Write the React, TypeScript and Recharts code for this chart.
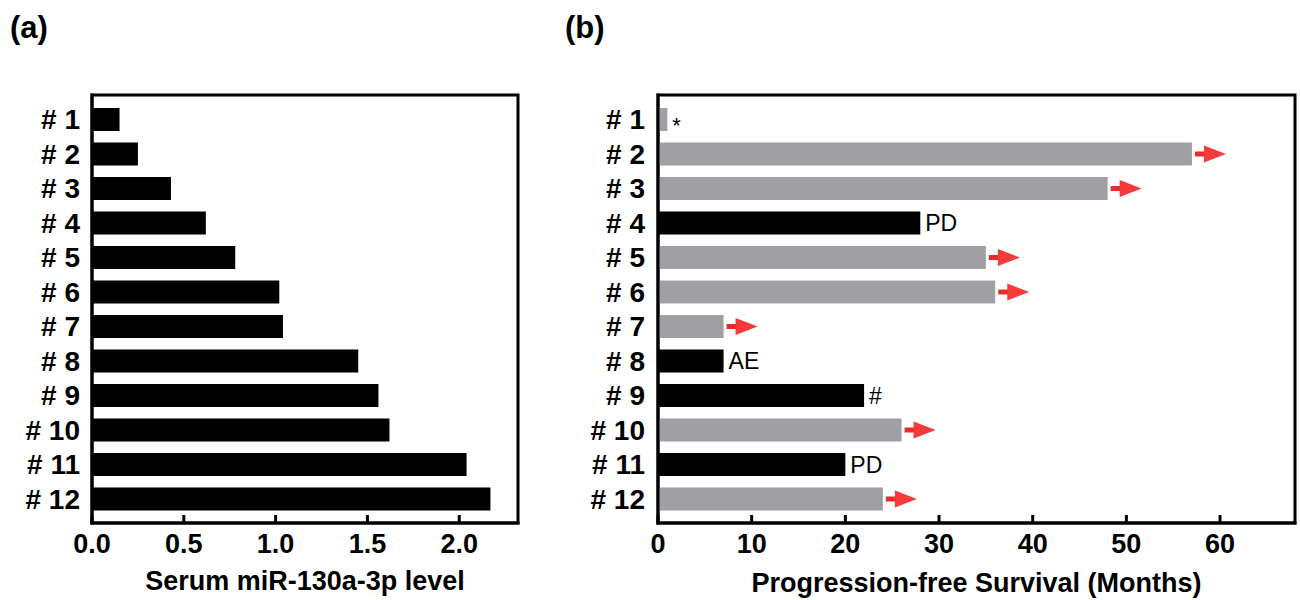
import React from 'react';
import * as R from 'recharts';
import { BarChart, Bar, XAxis, YAxis, Cell, LabelList } from 'recharts';

const FONT = "'Liberation Sans', Arial, Helvetica, sans-serif";

const patients = ['# 1', '# 2', '# 3', '# 4', '# 5', '# 6', '# 7', '# 8', '# 9', '# 10', '# 11', '# 12'];
const mirLevels = [0.15, 0.25, 0.43, 0.62, 0.78, 1.02, 1.04, 1.45, 1.56, 1.62, 2.04, 2.17];
const pfsMonths = [1, 57, 48, 28, 35, 36, 7, 7, 22, 26, 20, 24];
const pfsStatus = ['*', 'arrow', 'arrow', 'PD', 'arrow', 'arrow', 'arrow', 'AE', '#', 'arrow', 'PD', 'arrow'];
const mirTicks = [0, 0.5, 1, 1.5, 2];
const pfsTicks = [0, 10, 20, 30, 40, 50, 60];
const mirMax = 2.32;
const pfsMax = 68;
const titleA = 'Serum miR-130a-3p level';
const titleB = 'Progression-free Survival (Months)';

const BLACK = '#000000';
const GRAY = '#a09fa4';
const RED = '#f63a3a';

const dataA = patients.map((name, i) => ({ name, value: mirLevels[i] }));
const dataB = patients.map((name, i) => ({ name, value: pfsMonths[i], status: pfsStatus[i] }));

const frameLine = { stroke: '#000', strokeWidth: 3, strokeLinecap: 'square' as const };

const usePlotAreaSafe: () => any = (R as any).usePlotArea || (() => null);

function Frame() {
  const pa = usePlotAreaSafe();
  if (!pa) return null;
  return (
    <rect x={pa.x} y={pa.y} width={pa.width} height={pa.height} fill="none" stroke="#000" strokeWidth={3} />
  );
}

const makeXTick = (fmt: (v: number) => string) => (props: any) => {
  const { x, y, payload } = props;
  return (
    <g>
      <line x1={x} x2={x} y1={y} y2={y - 8} stroke="#000" strokeWidth={3} />
      <text x={x} y={y + 30} textAnchor="middle" fontSize={27} fontWeight="bold" fontFamily={FONT} fill="#000">
        {fmt(payload.value)}
      </text>
    </g>
  );
};

const yTickStyle = { fontSize: 28, fontWeight: 'bold', fill: '#000', fontFamily: FONT };

const renderStatus = (props: any) => {
  const { x, y, width, height, value } = props;
  const end = Number(x) + Number(width);
  const cy = Number(y) + Number(height) / 2;
  if (value === 'arrow') {
    return (
      <g>
        <path d={`M ${end + 3} ${cy - 2.5} H ${end + 15} V ${cy + 2.5} H ${end + 3} Z`} fill="#e82a2a" />
        <path d={`M ${end + 12} ${cy - 8.5} L ${end + 34} ${cy} L ${end + 12} ${cy + 8.5} Z`} fill={RED} />
      </g>
    );
  }
  if (value === '*') {
    return (
      <text x={end + 5} y={cy} dy="0.62em" fontSize={22} fontFamily={FONT} fill="#000">
        *
      </text>
    );
  }
  return (
    <text x={end + 5} y={cy} dy="0.36em" fontSize={23} fontFamily={FONT} fill="#000">
      {value}
    </text>
  );
};

const panelLabel = (left: number): React.CSSProperties => ({
  position: 'absolute',
  left,
  top: 12,
  fontFamily: FONT,
  fontWeight: 'bold',
  fontSize: 31,
  lineHeight: '31px',
  color: '#000',
});

export default function App() {
  return (
    <div style={{ position: 'absolute', left: 0, top: 0, width: 1300, height: 600, background: '#fff', overflow: 'hidden' }}>
      <div style={panelLabel(10)}>(a)</div>
      <div style={panelLabel(565)}>(b)</div>

      <div style={{ position: 'absolute', left: 0, top: 0 }}>
        <BarChart width={560} height={600} data={dataA} layout="vertical" margin={{ top: 95, right: 42, bottom: 0, left: 0 }}>
          <XAxis
            type="number"
            dataKey="value"
            domain={[0, mirMax]}
            ticks={mirTicks}
            allowDataOverflow
            height={77}
            tickSize={0}
            tickMargin={0}
            tickLine={false}
            axisLine={frameLine}
            tick={makeXTick((v) => v.toFixed(1))}
            label={{ value: titleA, position: 'insideBottom', offset: 10, style: { fontSize: 27, fontWeight: 'bold', fill: '#000', fontFamily: FONT } }}
          />
          <YAxis
            type="category"
            dataKey="name"
            width={92}
            padding={{ top: 7, bottom: 7 }}
            tickSize={0}
            tickMargin={12}
            tickLine={false}
            axisLine={frameLine}
            tick={yTickStyle}
            interval={0}
          />
          <Bar dataKey="value" fill={BLACK} barSize={23} isAnimationActive={false} />
          <Frame />
        </BarChart>
      </div>

      <div style={{ position: 'absolute', left: 560, top: 0 }}>
        <BarChart width={740} height={600} data={dataB} layout="vertical" margin={{ top: 95, right: 5, bottom: 0, left: 0 }}>
          <XAxis
            type="number"
            dataKey="value"
            domain={[0, pfsMax]}
            ticks={pfsTicks}
            allowDataOverflow
            height={77}
            tickSize={0}
            tickMargin={0}
            tickLine={false}
            axisLine={frameLine}
            tick={makeXTick((v) => String(v))}
            label={{ value: titleB, position: 'insideBottom', offset: 8, style: { fontSize: 27, fontWeight: 'bold', fill: '#000', fontFamily: FONT } }}
          />
          <YAxis
            type="category"
            dataKey="name"
            width={98}
            padding={{ top: 7, bottom: 7 }}
            tickSize={0}
            tickMargin={13}
            tickLine={false}
            axisLine={frameLine}
            tick={yTickStyle}
            interval={0}
          />
          <Bar dataKey="value" barSize={23} isAnimationActive={false}>
            {dataB.map((d, i) => (
              <Cell key={i} fill={d.status === 'arrow' || d.status === '*' ? GRAY : BLACK} />
            ))}
            <LabelList dataKey="status" content={renderStatus} />
          </Bar>
          <Frame />
        </BarChart>
      </div>
    </div>
  );
}
